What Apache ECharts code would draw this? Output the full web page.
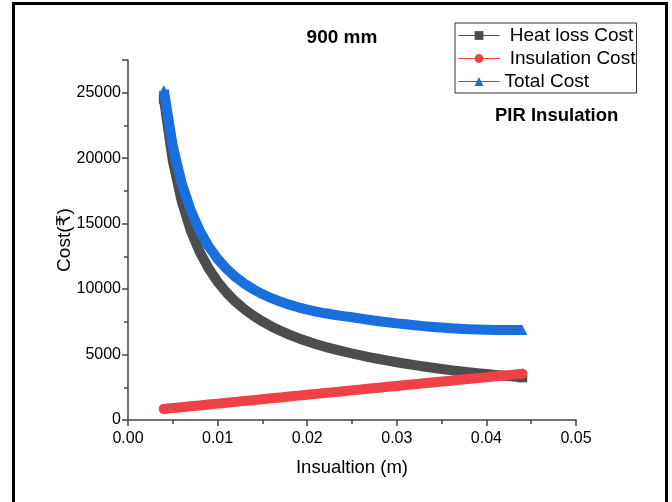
<!DOCTYPE html>
<html><head><meta charset="utf-8">
<script src="https://cdn.jsdelivr.net/npm/echarts@6/dist/echarts.min.js"></script>
<style>html,body{margin:0;padding:0;background:#fff}#c{width:672px;height:502px}</style>
</head><body><div id="c"></div>
<script>
const thickness = [0.004,0.005,0.006,0.007,0.008,0.009,0.010,0.011,0.012,0.013,0.014,0.015,0.016,0.017,0.018,0.019,0.020,0.021,0.022,0.023,0.024,0.025,0.026,0.027,0.028,0.029,0.030,0.031,0.032,0.033,0.034,0.035,0.036,0.037,0.038,0.039,0.040,0.041,0.042,0.043,0.044];
const heatLoss = [24550,19800,16700,14480,12850,11580,10560,9730,9040,8460,7960,7530,7150,6820,6520,6250,6010,5790,5590,5410,5240,5080,4930,4790,4660,4530,4410,4300,4190,4090,3990,3900,3810,3730,3650,3580,3510,3440,3380,3320,3260];
const insulation = [840,910,975,1045,1110,1180,1250,1315,1385,1450,1520,1590,1655,1725,1790,1860,1925,1995,2060,2130,2195,2265,2330,2400,2465,2535,2600,2670,2735,2800,2870,2935,3000,3070,3135,3200,3270,3335,3400,3465,3530];
const total = [25200,20910,18075,16025,14460,13260,12310,11545,10925,10410,9980,9620,9305,9045,8810,8610,8435,8285,8150,8040,7935,7845,7740,7640,7545,7465,7380,7310,7235,7170,7110,7060,7010,6970,6940,6920,6900,6880,6870,6870,6870];
const seriesNames = ['Heat loss Cost','Insulation Cost','Total Cost'];
const legendLabels = [' Heat loss Cost',' Insulation Cost','Total Cost'];
const xTicks = [0, 0.01, 0.02, 0.03, 0.04, 0.05];
const yTicks = [0, 5000, 10000, 15000, 20000, 25000];

const FONT = "'Liberation Sans', Arial, 'DejaVu Sans', sans-serif";
const chart = echarts.init(document.getElementById('c'), null, {renderer:'canvas'});
const mk = (name, data, color, symbol, cap, z) => ({
  name, type:'line', symbol, symbolSize: 10, showSymbol:true, z,
  data: thickness.map((x,i)=>{
    const end = (i===0 || i===thickness.length-1);
    return end ? {value:[x,data[i]]} : {value:[x,data[i]], symbol:'none'};
  }),
  itemStyle:{color}, lineStyle:{color, width:10, cap:cap, join:'round'}, animation:false, silent:true
});
chart.setOption({
  animation:false,
  graphic:[
    {type:'rect', shape:{x:13.5,y:3.5,width:653,height:520}, style:{fill:null, stroke:'#000', lineWidth:3}, z:100},
    {type:'text', x:65, y:240, rotation:Math.PI/2, style:{text:'Cost(₹)', font:"19px "+FONT, fill:'#000', align:'center', verticalAlign:'middle'}}
  ],
  title:[
    {text:'900 mm', left:342, top:28, padding:0, textAlign:'center', textStyle:{fontFamily:FONT, fontSize:19, fontWeight:'bold', color:'#000'}},
    {text:'PIR Insulation', left:495, top:106, padding:0, textStyle:{fontFamily:FONT, fontSize:18.5, fontWeight:'bold', color:'#000'}}
  ],
  legend:{
    orient:'vertical', left:455, top:23,
    data: seriesNames,
    formatter: n => legendLabels[seriesNames.indexOf(n)],
    itemWidth:41, itemHeight:11, itemGap:4,
    padding:[3,1,2,3], borderColor:'#333', borderWidth:1,
    textStyle:{fontFamily:FONT, fontSize:19, color:'#000'},
    lineStyle:{width:1}
  },
  grid:{left:128, right:96, top:60, bottom:82, containLabel:false},
  xAxis:{
    type:'value', min:xTicks[0], max:xTicks[xTicks.length-1], interval:0.01,
    name:'Insualtion (m)', nameLocation:'middle', nameGap:38,
    nameTextStyle:{fontFamily:FONT, fontSize:18.5, color:'#000'},
    axisLine:{show:true, onZero:false, lineStyle:{color:'#444', width:1.5}},
    axisTick:{show:true, inside:false, length:6, lineStyle:{color:'#444', width:1.5}},
    minorTick:{show:true, splitNumber:2, length:4, lineStyle:{color:'#444', width:1.5}},
    splitLine:{show:false},
    axisLabel:{fontFamily:FONT, fontSize:16, color:'#000', margin:11, formatter:v=>v.toFixed(2)}
  },
  yAxis:{
    type:'value', min:yTicks[0], max:27500, interval:5000,
    axisLine:{show:true, lineStyle:{color:'#444', width:1.5}},
    axisTick:{show:true, inside:false, length:6, lineStyle:{color:'#444', width:1.5}},
    minorTick:{show:true, splitNumber:2, length:4, lineStyle:{color:'#444', width:1.5}},
    splitLine:{show:false},
    axisLabel:{fontFamily:FONT, fontSize:16, color:'#000', margin:7, showMaxLabel:false,
      formatter:v=> yTicks.includes(v) ? String(v) : ''}
  },
  series:[
    mk(seriesNames[0], heatLoss, '#4d4d4d', 'rect', 'butt', 2),
    mk(seriesNames[1], insulation, '#f04146', 'circle', 'round', 3),
    mk(seriesNames[2], total, '#1a6fdf', 'triangle', 'butt', 4)
  ]
});
</script></body></html>
